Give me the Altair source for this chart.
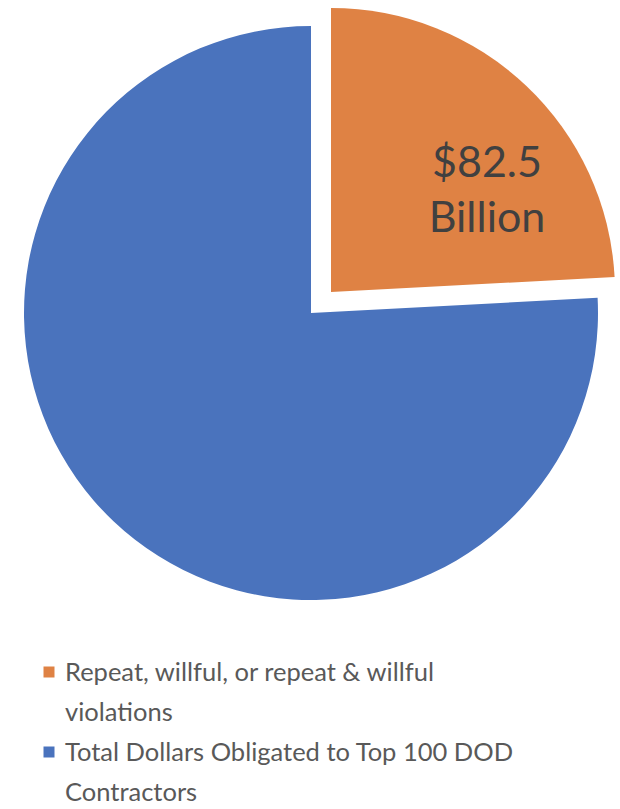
import math
import altair as alt
import pandas as pd

# ---- data ----
categories = [
    "Repeat, willful, or repeat & willful violations",
    "Total Dollars Obligated to Top 100 DOD Contractors",
]
legend_lines = [
    "Repeat, willful, or repeat & willful\nviolations",
    "Total Dollars Obligated to Top 100 DOD\nContractors",
]
values = [82.5, 259.0]          # billions of dollars
order = [0, 1]
colors = ["#DF8244", "#4A73BD"]

df = pd.DataFrame({"category": categories, "legend": legend_lines,
                   "value": values, "order": order})

base = (
    alt.Chart(df)
    .transform_joinaggregate(total="sum(value)")
    .transform_window(cum="sum(value)", sort=[alt.SortField("order")])
    .transform_calculate(start="(datum.cum - datum.value) / datum.total",
                         end="datum.cum / datum.total",
                         lab="'$' + format(datum.value, '.1f') + '\\nBillion'")
)

theta_scale = alt.Scale(domain=[0, 1], range=[0, 2 * math.pi])
color = alt.Color("category:N", scale=alt.Scale(domain=categories, range=colors), legend=None)
legend_y = alt.Y("order:Q", scale=alt.Scale(domain=[0, 1], range=[672, 752]), axis=None)

blue = base.transform_filter("datum.order == 1").mark_arc(outerRadius=287).encode(
    theta=alt.Theta("start:Q", scale=theta_scale, stack=None),
    theta2="end:Q",
    color=color,
    x=alt.value(311), y=alt.value(313),
)

orange = base.transform_filter("datum.order == 0").mark_arc(outerRadius=284).encode(
    theta=alt.Theta("start:Q", scale=theta_scale, stack=None),
    theta2="end:Q",
    color=color,
    x=alt.value(331), y=alt.value(292),
)

slice_text = base.transform_filter("datum.order == 0").mark_text(
    font="Lato", fontSize=43, color="#404040", lineBreak="\n", lineHeight=55,
    align="center", baseline="middle",
).encode(text="lab:N", x=alt.value(487), y=alt.value(164))

legend_sq = base.mark_square(size=121, opacity=1).encode(
    x=alt.value(49), y=legend_y, color=color,
)

legend_txt = base.mark_text(
    font="Lato", fontSize=25.5, color="#595959", lineBreak="\n", lineHeight=40,
    align="left", baseline="alphabetic", dy=9,
).encode(x=alt.value(65), y=legend_y, text="legend:N")

chart = alt.layer(blue, orange, slice_text, legend_sq, legend_txt).properties(
    width=620, height=809, padding=0, autosize=alt.AutoSizeParams(type="none"),
).configure_view(stroke=None)

chart.save("out.html", embed_options={"renderer": "svg", "actions": False})
